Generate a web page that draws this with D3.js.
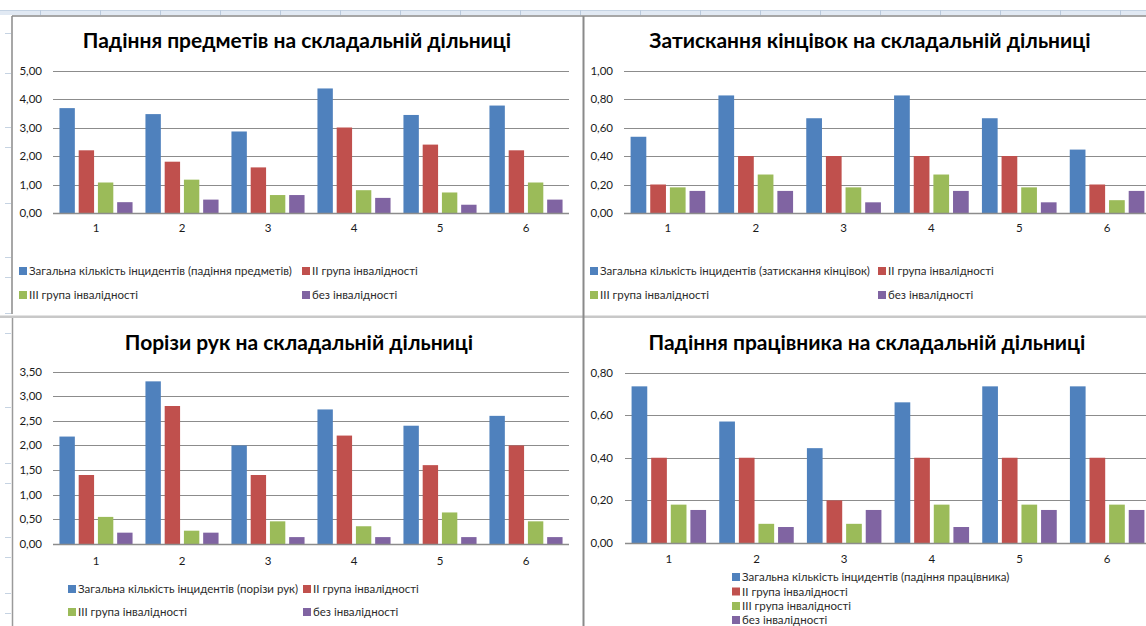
<!DOCTYPE html>
<html>
<head>
<meta charset="utf-8">
<script src="https://cdn.jsdelivr.net/npm/d3@7"></script>
<style>
  body { margin: 0; background: #fff; overflow: hidden; }
  svg { display: block; font-family: Lato, "Open Sans", sans-serif; }
</style>
</head>
<body>
<div id="viz"></div>
<script>
const width = 1146;
const height = 626;

const categories = ['1', '2', '3', '4', '5', '6'];
const seriesColors = ['#4F81BD', '#C0504D', '#9BBB59', '#8064A2'];
const otherSeries = ['II група інвалідності', 'III група інвалідності', 'без інвалідності'];

// Падіння предметів
const objectsTitle = 'Падіння предметів на складальній дільниці';
const objectsTotalLabel = 'Загальна кількість інцидентів (падіння предметів)';
const objectsTotal = [3.68, 3.47, 2.86, 4.37, 3.44, 3.77];
const objectsGroup2 = [2.2, 1.8, 1.6, 3.0, 2.4, 2.2];
const objectsGroup3 = [1.07, 1.17, 0.63, 0.8, 0.72, 1.07];
const objectsNone = [0.38, 0.47, 0.63, 0.53, 0.29, 0.47];
const objectsTicks = [0, 1, 2, 3, 4, 5];

// Затискання кінцівок
const limbsTitle = 'Затискання кінцівок на складальній дільниці';
const limbsTotalLabel = 'Загальна кількість інцидентів (затискання кінцівок)';
const limbsTotal = [0.535, 0.825, 0.665, 0.825, 0.665, 0.445];
const limbsGroup2 = [0.2, 0.4, 0.4, 0.4, 0.4, 0.2];
const limbsGroup3 = [0.18, 0.27, 0.18, 0.27, 0.18, 0.09];
const limbsNone = [0.155, 0.155, 0.075, 0.155, 0.075, 0.155];
const limbsTicks = [0, 0.2, 0.4, 0.6, 0.8, 1.0];

// Порізи рук
const cutsTitle = 'Порізи рук на складальній дільниці';
const cutsTotalLabel = 'Загальна кількість інцидентів (порізи рук)';
const cutsTotal = [2.18, 3.3, 2.0, 2.73, 2.4, 2.6];
const cutsGroup2 = [1.4, 2.8, 1.4, 2.2, 1.6, 2.0];
const cutsGroup3 = [0.55, 0.27, 0.46, 0.36, 0.64, 0.46];
const cutsNone = [0.23, 0.23, 0.14, 0.14, 0.14, 0.14];
const cutsTicks = [0, 0.5, 1.0, 1.5, 2.0, 2.5, 3.0, 3.5];

// Падіння працівника
const workerTitle = 'Падіння працівника на складальній дільниці';
const workerTotalLabel = 'Загальна кількість інцидентів (падіння працівника)';
const workerTotal = [0.735, 0.57, 0.445, 0.66, 0.735, 0.735];
const workerGroup2 = [0.4, 0.4, 0.2, 0.4, 0.4, 0.4];
const workerGroup3 = [0.18, 0.09, 0.09, 0.18, 0.18, 0.18];
const workerNone = [0.155, 0.075, 0.155, 0.075, 0.155, 0.155];
const workerTicks = [0, 0.2, 0.4, 0.6, 0.8];

const fmt = d3.formatLocale({decimal: ',', thousands: ' ', grouping: [3], currency: ['', '']}).format('.2f');

const charts = [
  {
    title: objectsTitle, titleX: 297, titleY: 48,
    series: [objectsTotalLabel].concat(otherSeries),
    values: [objectsTotal, objectsGroup2, objectsGroup3, objectsNone],
    ticks: objectsTicks,
    xRange: [53, 569], yRange: [213, 70.5], labelX: 42, catY: 232,
    legend: [[19, 271], [302, 271], [19, 295], [302, 295]]
  },
  {
    title: limbsTitle, titleX: 870, titleY: 48,
    series: [limbsTotalLabel].concat(otherSeries),
    values: [limbsTotal, limbsGroup2, limbsGroup3, limbsNone],
    ticks: limbsTicks,
    xRange: [624, 1151], yRange: [213, 70.5], labelX: 613, catY: 232,
    legend: [[590, 271], [878, 271], [590, 295], [878, 295]]
  },
  {
    title: cutsTitle, titleX: 299, titleY: 350,
    series: [cutsTotalLabel].concat(otherSeries),
    values: [cutsTotal, cutsGroup2, cutsGroup3, cutsNone],
    ticks: cutsTicks,
    xRange: [53, 569], yRange: [544, 371.5], labelX: 42, catY: 565,
    legend: [[68, 589], [303, 589], [68, 612], [303, 612]]
  },
  {
    title: workerTitle, titleX: 867, titleY: 350,
    series: [workerTotalLabel].concat(otherSeries),
    values: [workerTotal, workerGroup2, workerGroup3, workerNone],
    ticks: workerTicks,
    xRange: [625, 1151], yRange: [543, 372.5], labelX: 613, catY: 563,
    legend: [[732, 577], [732, 591.5], [732, 606], [732, 620]]
  }
];

const svg = d3.select('#viz').append('svg')
  .attr('width', width)
  .attr('height', height);

// spreadsheet backdrop: column header strip and row marks
const back = svg.append('g');
back.append('rect').attr('x', 0).attr('y', 10).attr('width', width).attr('height', 5).attr('fill', '#e1e9f3');
back.append('line').attr('x1', 0).attr('x2', width).attr('y1', 10.5).attr('y2', 10.5).attr('stroke', '#c5d3e3');
back.selectAll('.col').data(d3.range(40, width, 60)).join('line')
  .attr('x1', d => d + 0.5).attr('x2', d => d + 0.5).attr('y1', 10).attr('y2', 15)
  .attr('stroke', '#b9c9dc');
back.selectAll('.row').data([33, 73, 127, 147, 203, 257, 277, 313, 333, 407, 463, 483, 537, 557, 593, 613]).join('line')
  .attr('x1', 5).attr('x2', 11).attr('y1', d => d + 0.5).attr('y2', d => d + 0.5)
  .attr('stroke', '#c6d3e2');

// chart frames
back.append('rect').attr('x', 0).attr('y', 315.5).attr('width', width).attr('height', 2.5).attr('fill', '#c8c8c8');
back.append('line').attr('x1', 12).attr('x2', width).attr('y1', 16).attr('y2', 16).attr('stroke', '#8a8a8a').attr('stroke-width', 1.5);
back.append('line').attr('x1', 12).attr('x2', 12).attr('y1', 16).attr('y2', 314).attr('stroke', '#8a8a8a').attr('stroke-width', 1.5);
back.append('line').attr('x1', 12.5).attr('x2', 12.5).attr('y1', 318).attr('y2', height).attr('stroke', '#9a9a9a').attr('stroke-width', 1.5);
back.append('line').attr('x1', 583.5).attr('x2', 583.5).attr('y1', 16).attr('y2', height).attr('stroke', '#8a8a8a').attr('stroke-width', 2);

charts.forEach(drawChart);

function drawChart(c) {
  const g = svg.append('g');

  const y = d3.scaleLinear()
    .domain([0, d3.max(c.ticks)])
    .range(c.yRange);

  const x0 = d3.scaleBand()
    .domain(categories)
    .range(c.xRange)
    .paddingInner(0.15)
    .paddingOuter(0.075);

  const x1 = d3.scaleBand()
    .domain(d3.range(c.series.length))
    .range([0, x0.bandwidth()])
    .paddingInner(0.2);

  // title
  g.append('text')
    .attr('x', c.titleX)
    .attr('y', c.titleY)
    .attr('text-anchor', 'middle')
    .style('font-size', '21px')
    .style('font-weight', 'bold')
    .attr('fill', '#000')
    .text(c.title);

  // gridlines
  g.selectAll('.grid').data(c.ticks.filter(t => t > 0)).join('line')
    .attr('x1', c.xRange[0]).attr('x2', c.xRange[1])
    .attr('y1', d => Math.round(y(d)) + 0.5).attr('y2', d => Math.round(y(d)) + 0.5)
    .attr('stroke', '#8c8c8c');

  // y labels
  g.selectAll('.ylab').data(c.ticks).join('text')
    .attr('x', c.labelX)
    .attr('y', d => y(d))
    .attr('dy', '0.35em')
    .attr('text-anchor', 'end')
    .style('font-size', '11.5px')
    .attr('fill', '#1a1a1a')
    .text(d => fmt(d));

  // bars
  const groups = g.selectAll('.grp').data(categories).join('g')
    .attr('transform', d => `translate(${x0(d)},0)`);

  groups.selectAll('rect')
    .data((d, i) => c.values.map((s, k) => ({k: k, v: s[i]})))
    .join('rect')
      .attr('x', d => x1(d.k))
      .attr('y', d => y(d.v))
      .attr('width', x1.bandwidth())
      .attr('height', d => y(0) - y(d.v))
      .attr('fill', d => seriesColors[d.k]);

  // baseline axis
  g.append('line')
    .attr('x1', c.xRange[0]).attr('x2', c.xRange[1])
    .attr('y1', Math.round(y(0)) + 0.5).attr('y2', Math.round(y(0)) + 0.5)
    .attr('stroke', '#8c8c8c').attr('stroke-width', 1.5);

  // category labels
  g.selectAll('.xlab').data(categories).join('text')
    .attr('x', d => x0(d) + x0.bandwidth() / 2)
    .attr('y', c.catY)
    .attr('text-anchor', 'middle')
    .style('font-size', '11.5px')
    .attr('fill', '#1a1a1a')
    .text(d => d);

  // legend
  const leg = g.selectAll('.leg').data(c.series).join('g')
    .attr('transform', (d, i) => `translate(${c.legend[i][0]},${c.legend[i][1]})`);
  leg.append('rect')
    .attr('x', 0).attr('y', -4)
    .attr('width', 8).attr('height', 8)
    .attr('fill', (d, i) => seriesColors[i]);
  leg.append('text')
    .attr('x', 10)
    .attr('y', 0)
    .attr('dy', '0.35em')
    .style('font-size', '11.5px')
    .attr('fill', '#2b2b2b')
    .text(d => d);
}
</script>
</body>
</html>
